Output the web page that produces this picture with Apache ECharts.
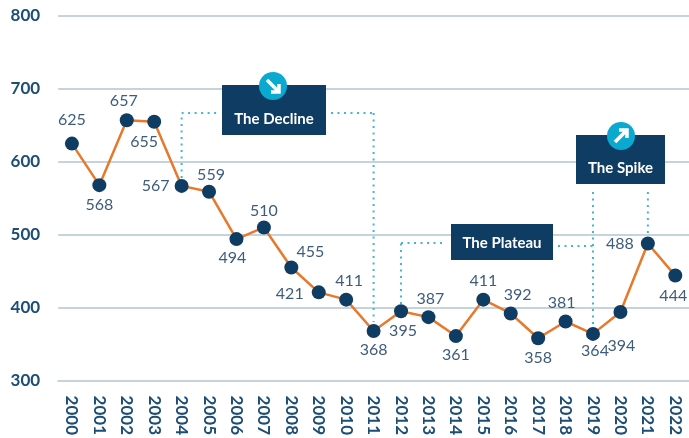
<!DOCTYPE html>
<html>
<head>
<meta charset="utf-8">
<style>
  html, body { margin: 0; padding: 0; background: #fff; }
  #chart { width: 689px; height: 438px; }
</style>
<script src="https://cdn.jsdelivr.net/npm/echarts@6/dist/echarts.min.js"></script>
</head>
<body>
<div id="chart"></div>
<script>
const years = ['2000','2001','2002','2003','2004','2005','2006','2007','2008','2009','2010','2011','2012','2013','2014','2015','2016','2017','2018','2019','2020','2021','2022']
const values = [625,568,657,655,567,559,494,510,455,421,411,368,395,387,361,411,392,358,381,364,394,488,444]
const yTicks = [300,400,500,600,700,800]

// label offset from each point's centre, same order as years
const labelOffsets = [
  [0,-24],[0,20],[-3,-19],[-10,20],[-26,0],[2,-17],[-4,19],[0,-17],[19,-16],[-29,2],[3,-19],[0,19],
  [2,20],[2,-18],[0,19],[0,-19],[7,-19],[0,20],[-4,-19],[2,17],[1,34],[-28,0],[-2,20]
]

const navy = '#0f3c62'
const cyan = '#0aa9cf'
const dotted = { stroke: '#3fb8d4', lineWidth: 2, lineDash: [2, 4.5] }

const myChart = echarts.init(document.getElementById('chart'), null, { renderer: 'canvas' })

const option = {
  animation: false,
  textStyle: { fontFamily: 'Lato' },
  grid: { left: 58.2, right: -2.8, top: 16, bottom: 56.5 },
  xAxis: [
    {
      type: 'category',
      data: years,
      axisLine: { lineStyle: { color: '#c5d3dc', width: 2 } },
      axisTick: { alignWithLabel: true, length: 8, lineStyle: { color: '#c5d3dc', width: 2 } },
      axisLabel: { rotate: -90, interval: 0, margin: 15, color: '#1d4e75', fontSize: 17, fontWeight: 'bold' }
    },
    {
      type: 'category',
      position: 'bottom',
      data: years,
      axisLine: { show: false },
      axisTick: { inside: true, alignWithLabel: true, length: 8, lineStyle: { color: '#c5d3dc', width: 2 } },
      axisLabel: { show: false }
    }
  ],
  yAxis: {
    type: 'value',
    min: yTicks[0],
    max: yTicks[yTicks.length - 1],
    interval: 100,
    axisLine: { show: false },
    axisTick: { show: false },
    splitLine: { lineStyle: { color: '#c5d3dc', width: 2 } },
    axisLabel: { margin: 18, color: '#1d4e75', fontSize: 17, fontWeight: 'bold' }
  },
  series: [
    {
      type: 'line',
      data: values.map((v, i) => ({
        value: v,
        label: { offset: labelOffsets[i] }
      })),
      symbol: 'circle',
      symbolSize: 14,
      itemStyle: { color: navy },
      lineStyle: { color: '#e8792b', width: 2.5 },
      label: {
        show: true,
        position: 'inside',
        color: '#3f5c7c',
        fontSize: 16
      },
      z: 3
    }
  ]
}
myChart.setOption(option)

// annotations hang off the real scales
const px = (year, val) => myChart.convertToPixel({ xAxisIndex: 0, yAxisIndex: 0 }, [year, val])
const line = (x1, y1, x2, y2) => ({
  type: 'line', z: 5, shape: { x1, y1, x2, y2 }, style: dotted
})
const box = (x, y, width, height, text, textY) => ([
  { type: 'rect', z: 6, shape: { x, y, width, height }, style: { fill: navy } },
  {
    type: 'text', z: 7, x: x + width / 2, y: textY,
    style: { text, fill: '#fff', font: 'bold 15px Lato', align: 'center', verticalAlign: 'middle' }
  }
])
// arrow drawn as a little polyline, dir 1 = down-right, -1 = up-right
const badge = (cx, cy, dir) => ([
  { type: 'circle', z: 8, shape: { cx, cy, r: 14 }, style: { fill: cyan } },
  { type: 'line', z: 9, shape: { x1: cx - 6, y1: cy - 6 * dir, x2: cx + 5, y2: cy + 5 * dir }, style: { stroke: '#fff', lineWidth: 3.5 } },
  { type: 'polyline', z: 9, shape: { points: [[cx + 6, cy - 2 * dir], [cx + 6, cy + 6 * dir], [cx - 2, cy + 6 * dir]] }, style: { stroke: '#fff', lineWidth: 3.5, fill: null } }
])

const x2004 = px('2004', 567)[0]
const x2011 = px('2011', 368)[0]
const x2012 = px('2012', 395)[0]
const x2019 = px('2019', 364)[0]
const x2021 = px('2021', 488)[0]

myChart.setOption({
  graphic: [
    // the decline
    line(x2004, 178, x2004, 113), line(x2004, 113, 217, 113),
    line(331, 113, x2011, 113), line(x2011, 113, x2011, 322),
    // the plateau
    line(x2012, 304, x2012, 243), line(x2012, 243, 446, 243),
    line(558, 246, x2019, 246),
    // the spike
    line(x2019, 192, x2019, 327), line(x2021, 192, x2021, 236),
    ...box(222, 85, 104, 50, 'The Decline', 119),
    ...badge(273, 86, 1),
    ...box(576, 135, 89, 49, 'The Spike', 168),
    ...badge(621, 136, -1),
    ...box(451, 224, 102, 36, 'The Plateau', 243)
  ]
})
</script>
</body>
</html>
